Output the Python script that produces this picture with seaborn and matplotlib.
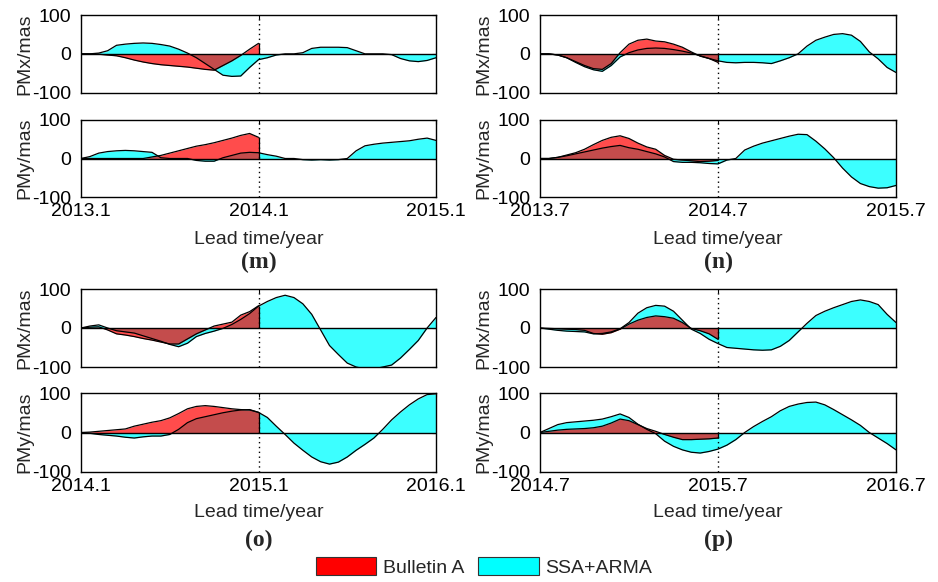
import numpy as np
import pandas as pd
import matplotlib
matplotlib.use("Agg")
import matplotlib.pyplot as plt
import seaborn as sns
from matplotlib.patches import Patch

# ---------------- data ----------------
t_ssa = np.round(np.arange(41) * 0.05, 2)   # lead time (years) for SSA+ARMA, 2 years
t_ba = t_ssa[:21]                             # lead time for Bulletin A, 1 year

starts = [2013.1, 2013.7, 2014.1, 2014.7]
panel_labels = ["(m)", "(n)", "(o)", "(p)"]
ylabels = ["PMx/mas", "PMy/mas"]
series_names = ["Bulletin A", "SSA+ARMA"]

m_x_ssa = [0, 0, 2, 8, 22, 25, 27, 28, 27, 24, 20, 12, 2, -10, -25, -40, -55, -58, -57, -35,
           -15, -10, -3, 0, 0, 3, 14, 17, 17, 17, 16, 8, 0, 0, 0, -2, -12, -18, -20, -17, -10]
m_x_ba = [0, 0, -1, -3, -5, -10, -16, -21, -25, -28, -30, -32, -34, -37, -40, -42, -30, -18, -4, 12, 27]
m_y_ssa = [0, 5, 14, 18, 20, 21, 20, 18, 16, 2, 0, 0, 0, -5, -7, -7, 2, 8, 14, 16,
           15, 10, 6, 0, 0, -3, -4, -3, -4, -3, 0, 20, 33, 37, 40, 42, 44, 46, 50, 53, 47]
m_y_ba = [0, 0, 0, 0, 0, 0, 0, 0, 4, 8, 14, 20, 26, 32, 36, 41, 47, 53, 60, 65, 55]

n_x_ssa = [0, 0, -3, -10, -22, -33, -41, -45, -30, -8, 3, 10, 14, 15, 14, 11, 7, 2, -5, -12,
           -18, -22, -23, -22, -22, -23, -25, -18, -10, 0, 20, 35, 43, 50, 52, 48, 32, 5, -13, -35, -48]
n_x_ba = [0, 0, -3, -10, -20, -30, -38, -40, -25, 3, 25, 35, 38, 33, 31, 25, 17, 5, -6, -12, -22]
n_y_ssa = [0, 0, 3, 7, 12, 17, 22, 27, 31, 34, 28, 24, 18, 12, 4, -8, -10, -10, -11, -13,
           -14, -4, 0, 22, 32, 40, 46, 52, 58, 63, 62, 45, 25, 2, -25, -48, -65, -73, -77, -76, -70]
n_y_ba = [0, 0, 3, 9, 15, 24, 36, 47, 55, 59, 52, 40, 30, 24, 8, -2, -4, -6, -8, -7, -5]

o_x_ssa = [0, 5, 8, 0, -7, -10, -13, -20, -27, -34, -42, -48, -39, -22, -14, -8, -1, 9, 22, 37,
           56, 68, 78, 84, 78, 62, 35, -5, -45, -68, -90, -100, -105, -105, -100, -95, -77, -55, -32, 0, 27]
o_x_ba = [0, 2, 3, -5, -15, -18, -22, -27, -31, -36, -41, -41, -28, -15, -5, 5, 10, 15, 33, 42, 57]
o_y_ssa = [0, -2, -5, -7, -9, -12, -14, -11, -9, -9, -5, 8, 25, 35, 40, 45, 50, 54, 57, 58,
           51, 38, 16, -5, -27, -45, -62, -74, -80, -75, -62, -45, -30, -14, 8, 32, 52, 70, 85, 96, 98]
o_y_ba = [0, 1, 3, 5, 7, 9, 16, 21, 26, 30, 37, 48, 60, 66, 68, 66, 63, 60, 58, 57, 51]

p_x_ssa = [0, -3, -6, -8, -9, -10, -15, -14, -10, -2, 14, 38, 52, 58, 56, 43, 20, -3, -14, -29,
           -40, -50, -52, -54, -56, -57, -56, -47, -32, -10, 12, 32, 43, 52, 60, 68, 72, 68, 60, 35, 14]
p_x_ba = [0, -1, -2, -3, -4, -6, -14, -16, -12, -3, 10, 20, 27, 31, 29, 25, 14, -1, -7, -15, -29]
p_y_ssa = [0, 10, 20, 25, 27, 29, 31, 34, 40, 47, 38, 21, 8, -3, -22, -35, -44, -50, -52, -48,
           -42, -32, -18, 0, 15, 28, 40, 55, 66, 72, 76, 77, 70, 58, 45, 32, 18, 0, -14, -28, -44]
p_y_ba = [0, 3, 6, 8, 9, 10, 12, 16, 24, 34, 30, 20, 10, 3, -5, -12, -18, -18, -17, -16, -14]

panel_data = [
    ((m_x_ba, m_x_ssa), (m_y_ba, m_y_ssa)),
    ((n_x_ba, n_x_ssa), (n_y_ba, n_y_ssa)),
    ((o_x_ba, o_x_ssa), (o_y_ba, o_y_ssa)),
    ((p_x_ba, p_x_ssa), (p_y_ba, p_y_ssa)),
]

# ---------------- style ----------------
sns.set_theme(style="white")
plt.rcParams['font.family'] = ['Liberation Sans', 'DejaVu Sans']
plt.rcParams['axes.linewidth'] = 1.0

RED = "#FF0000"
CYAN = "#3CFFFF"
FS = 14

W, H = 938, 582
fig = plt.figure(figsize=(W / 100, H / 100), dpi=100)

col_left = [81, 540]
col_right = [436, 896]
row_tops = [(15, 92.7, 120, 197), (289, 367, 393, 472)]


def ax_rect(x0, x1, ytop, ybot):
    return [x0 / W, 1 - ybot / H, (x1 - x0) / W, (ybot - ytop) / H]


def draw(ax, start, ba, ssa, ylabel, show_x):
    df_s = pd.DataFrame({"x": start + t_ssa, "y": np.array(ssa, float)})
    df_b = pd.DataFrame({"x": start + t_ba, "y": np.array(ba, float)})
    ax.fill_between(df_s["x"], 0, df_s["y"], color=CYAN, lw=0, zorder=1)
    ax.fill_between(df_b["x"], 0, df_b["y"], color=RED, alpha=0.7, lw=0, zorder=2)
    sns.lineplot(data=df_s, x="x", y="y", color="black", lw=0.9, ax=ax,
                 estimator=None, sort=False, legend=False, zorder=3)
    sns.lineplot(data=df_b, x="x", y="y", color="black", lw=0.9, ax=ax,
                 estimator=None, sort=False, legend=False, zorder=3)
    ax.vlines(df_b["x"].iloc[-1], 0, df_b["y"].iloc[-1], color="black", lw=0.9, zorder=3)
    ax.axhline(0, color="black", lw=1.0, zorder=4)
    ax.axvline(start + 1, color="black", lw=1.0, ls=(0, (1, 2.5)), zorder=4)
    ax.set_xlim(start, start + 2)
    ax.set_ylim(-100, 100)
    ax.set_yticks([-100, 0, 100])
    ax.set_yticklabels(["-100", "0", "100"])
    xt = [start, start + 1, start + 2]
    ax.set_xticks(xt)
    if show_x:
        ax.set_xticklabels([f"{v:.1f}" for v in xt])
    else:
        ax.set_xticklabels([])
    ax.tick_params(direction="in", length=3, width=0.8, top=True, right=True,
                   labelsize=FS, pad=4, colors="black")
    ax.tick_params(axis="y", pad=7)
    for s in ax.spines.values():
        s.set_color("black")
        s.set_linewidth(1.0)
    ax.set_ylabel(ylabel, fontsize=FS)
    ax.yaxis.set_label_coords(-0.135, 0.5)
    ax.set_xlabel("")


for i, (start, plabel, pdata) in enumerate(zip(starts, panel_labels, panel_data)):
    row, col = divmod(i, 2)
    x0, x1 = col_left[col], col_right[col]
    ytx, ybx, yty, yby = row_tops[row]
    ax_x = fig.add_axes(ax_rect(x0, x1, ytx, ybx))
    ax_y = fig.add_axes(ax_rect(x0, x1, yty, yby))
    draw(ax_x, start, pdata[0][0], pdata[0][1], ylabels[0], False)
    draw(ax_y, start, pdata[1][0], pdata[1][1], ylabels[1], True)
    ax_y.set_xlabel("Lead time/year", fontsize=FS)
    h = yby - yty
    label_top = 231 if row == 0 else 504
    ax_y.xaxis.set_label_coords(0.5, (yby - label_top) / h)
    ax_y.xaxis.label.set_va("top")
    cx = (x0 + x1) / 2 / W
    cy = 262 if row == 0 else 540
    fig.text(cx, 1 - cy / H, plabel, ha="center", va="center",
             fontsize=17, fontweight="bold", family=["Liberation Serif", "DejaVu Serif"])

handles = [Patch(facecolor=RED, edgecolor="#333333", lw=0.8, label=series_names[0]),
           Patch(facecolor="#00FFFF", edgecolor="#333333", lw=0.8, label=series_names[1])]
fig.legend(handles=handles, loc="center", bbox_to_anchor=(484 / W, 1 - 567 / H), ncol=2,
           frameon=False, fontsize=FS, handlelength=3.1, handleheight=1.05,
           handletextpad=0.36, columnspacing=0.72, borderaxespad=0)

fig.savefig("out.png", dpi=100)
